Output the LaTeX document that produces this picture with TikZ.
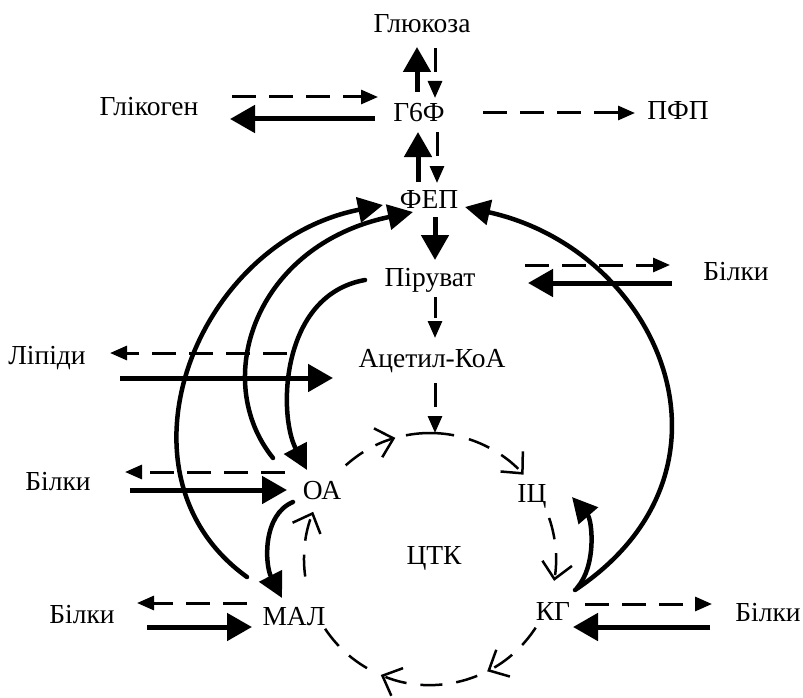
\documentclass[tikz,border=0pt]{standalone}
\usepackage{fontspec}
\setmainfont{Liberation Serif}
\usetikzlibrary{arrows.meta,calc}

\begin{document}
\begin{tikzpicture}[x=1pt,y=1pt,
  lbl/.style={font=\fontsize{27.5}{32}\selectfont, inner sep=0pt, anchor=base},
  thk/.style={line width=5pt, -{Triangle[length=25pt,width=27pt]}},
  dsh/.style={line width=3pt, dash pattern=on 24pt off 13pt, -{Triangle[length=17pt,width=14pt]}},
  vdsh/.style={dsh, dash pattern=on 21pt off 6pt},
  crv/.style={line width=4.5pt, line cap=round},
  crvarr/.style={crv, -{Triangle[length=25pt,width=25pt]}},
  cyc/.style={line width=2.5pt, dash pattern=on 22pt off 14pt},
  cycarr/.style={cyc, -{Straight Barb[length=16pt,width=30pt,line width=2.5pt]}},
]
\useasboundingbox (0,0) rectangle (803,-698);

% metabolites
\node[lbl] (glu)  at (422,-33)  {Глюкоза};
\node[lbl] (g6f)  at (419,-122) {Г6Ф};
\node[lbl] (glik) at (149,-116) {Глікоген};
\node[lbl] (pfp)  at (678,-120) {ПФП};
\node[lbl] (fep)  at (429,-208) {ФЕП};
\node[lbl] (pir)  at (430,-286) {Піруват};
\node[lbl] (bilR) at (736,-280) {Білки};
\node[lbl] (acet) at (432,-367) {Ацетил-КоА};
\node[lbl] (lip)  at (47,-364)  {Ліпіди};
\node[lbl] (bil1) at (58,-490)  {Білки};
\node[lbl] (oa)   at (322,-499) {ОА};
\node[lbl] (ic)   at (532,-502) {ІЦ};
\node[lbl] (ctk)  at (434,-564) {ЦТК};
\node[lbl] (kg)   at (553,-620) {КГ};
\node[lbl] (bil3) at (768,-621) {Білки};
\node[lbl] (mal)  at (294,-625) {МАЛ};
\node[lbl] (bil2) at (82,-623)  {Білки};

% centre of the citric acid cycle ring
\coordinate (tcac) at ($(ctk.base)+(-4,5)$);

% glucose / glycogen / pentose branch
\draw[thk] ($(g6f.base)+(-2,30)$) -- ($(glu.base)+(-5,-14)$);
\draw[dsh] ($(glu.base)+(13,-15)$) -- ($(g6f.base)+(16,24)$);
\draw[dsh] ($(glik.base)+(83,19)$) -- ($(g6f.base)+(-41,25)$);
\draw[thk] ($(g6f.base)+(-44,3)$) -- ($(glik.base)+(81,-3)$);
\draw[dsh] ($(g6f.base)+(64,9)$) -- ($(pfp.base)+(-43,7)$);
\draw[thk] ($(fep.base)+(-11,26)$) -- ($(g6f.base)+(-1,-10)$);
\draw[dsh] ($(g6f.base)+(18,-10)$) -- ($(fep.base)+(8,25)$);

% glycolysis down to the cycle
\draw[thk] ($(fep.base)+(6,-9)$) -- ($(pir.base)+(5,26)$);
\draw[vdsh] ($(pir.base)+(5,-11)$) -- ($(acet.base)+(3,29)$);
\draw[dsh] ($(acet.base)+(3,-16)$) -- ($(tcac)+(5,126)$);

% exchange with proteins and lipids
\draw[dsh] ($(pir.base)+(95,21)$) -- ($(bilR.base)+(-66,15)$);
\draw[thk] ($(bilR.base)+(-64,-3)$) -- ($(pir.base)+(98,3)$);
\draw[dsh] ($(acet.base)+(-145,14)$) -- ($(lip.base)+(63,11)$);
\draw[thk] ($(lip.base)+(73,-14)$) -- ($(acet.base)+(-99,-11)$);
\draw[dsh] ($(oa.base)+(-37,27)$) -- ($(bil1.base)+(67,18)$);
\draw[thk] ($(bil1.base)+(72,0)$) -- ($(oa.base)+(-35,9)$);
\draw[dsh] ($(mal.base)+(-47,22)$) -- ($(bil2.base)+(55,20)$);
\draw[thk] ($(bil2.base)+(65,-4)$) -- ($(mal.base)+(-42,-2)$);
\draw[dsh] ($(kg.base)+(32,16)$) -- ($(bil3.base)+(-56,17)$);
\draw[thk] ($(bil3.base)+(-58,-6)$) -- ($(kg.base)+(20,-7)$);

% gluconeogenic bypasses
\draw[crvarr] ($(mal.base)+(-47,48)$) .. controls (105,-475) and (195,-242) .. ($(fep.base)+(-46,3)$);
\draw[crvarr] ($(oa.base)+(-49,41)$) .. controls (210,-380) and (255,-245) .. ($(fep.base)+(-16,-4)$);
\draw[crvarr] ($(pir.base)+(-65,6)$) .. controls (280,-295) and (278,-415) .. ($(oa.base)+(-15,29)$);
\draw[crvarr] ($(oa.base)+(-29,-3)$) .. controls (262,-515) and (265,-565) .. ($(mal.base)+(-12,27)$);
\draw[crvarr] ($(kg.base)+(24,32)$) .. controls (597,-565) and (592,-520) .. ($(ic.base)+(40,5)$);
\draw[crvarr] ($(kg.base)+(22,30)$) .. controls (755,-470) and (660,-250) .. ($(fep.base)+(36,1)$);

% citric acid cycle ring
\draw[cycarr] ($(tcac)+(132:126pt)$) arc[start angle=132,end angle=106,radius=126pt];
\draw[line width=2.5pt] ($(tcac)+(101:126pt)$) arc[start angle=101,end angle=79,radius=126pt];
\draw[cycarr] ($(tcac)+(72:126pt)$) arc[start angle=72,end angle=42,radius=126pt];
\draw[cycarr] ($(tcac)+(19:126pt)$) arc[start angle=19,end angle=-10,radius=126pt];
\draw[cycarr] ($(tcac)+(-33:126pt)$) arc[start angle=-33,end angle=-63,radius=126pt];
\draw[cycarr] ($(tcac)+(-68:126pt)$) arc[start angle=-68,end angle=-113,radius=126pt];
\draw[cyc] ($(tcac)+(-120:126pt)$) arc[start angle=-120,end angle=-147,radius=126pt];
\draw[cycarr] ($(tcac)+(188:126pt)$) arc[start angle=188,end angle=158,radius=126pt];
\end{tikzpicture}
\end{document}
